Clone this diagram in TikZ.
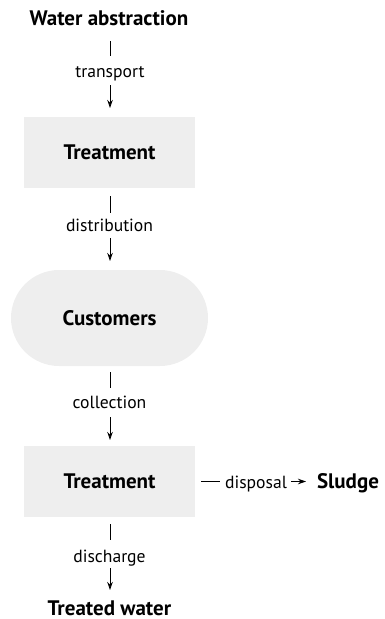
\documentclass[tikz,border=0pt]{standalone}
\usepackage{fontspec}
\setmainfont{PT Sans}
\usetikzlibrary{arrows.meta}
\definecolor{boxgray}{HTML}{EEEEEE}
\begin{document}
\begin{tikzpicture}[x=1pt,y=-1pt,
  boldtext/.style={font=\fontsize{21}{23}\selectfont\bfseries},
  title/.style={boldtext, inner sep=0pt, anchor=base},
  boxnode/.style={boldtext, fill=boxgray, minimum width=171pt, minimum height=71pt, inner sep=0pt},
  stadium/.style={boldtext, fill=boxgray, rounded corners=48pt, minimum width=197pt, minimum height=96pt, inner sep=0pt},
  lbl/.style={font=\fontsize{17.6}{19}\selectfont, inner sep=0pt, anchor=base},
  conn/.style={line width=0.9pt},
  arr/.style={line width=0.9pt, -{Stealth[length=8pt,width=5.5pt]}}
]
\useasboundingbox (0,0) rectangle (385,619);
\node[title] (wa) at (109,25) {Water abstraction};
\node[lbl] (l1) at (110,77) {transport};
\node[boxnode] (t1) at (109.5,152.5) {Treatment};
\node[lbl] (l2) at (109.5,231) {distribution};
\node[stadium] (cust) at (109.5,318) {Customers};
\node[lbl] (l3) at (109.5,408) {collection};
\node[boxnode] (t2) at (109.5,481.5) {Treatment};
\node[lbl] (l4) at (109.5,562) {discharge};
\node[title] (tw) at (109.5,615.5) {Treated water};
\node[lbl] (l5) at (256,488) {disposal};
\node[title] (sl) at (348,488) {Sludge};
% vertical connectors
\coordinate (a1) at (110,41); \coordinate (b1) at (110,56);
\coordinate (c1) at (110,85); \coordinate (d1) at (110,108);
\draw[conn] (a1) -- (b1);
\draw[arr] (c1) -- (d1);
\coordinate (a2) at (110,196); \coordinate (b2) at (110,213);
\coordinate (c2) at (110,238); \coordinate (d2) at (110,261);
\draw[conn] (a2) -- (b2);
\draw[arr] (c2) -- (d2);
\coordinate (a3) at (110,372); \coordinate (b3) at (110,388);
\coordinate (c3) at (110,417); \coordinate (d3) at (110,440);
\draw[conn] (a3) -- (b3);
\draw[arr] (c3) -- (d3);
\coordinate (a4) at (110,524); \coordinate (b4) at (110,540);
\coordinate (c4) at (110,568); \coordinate (d4) at (110,590);
\draw[conn] (a4) -- (b4);
\draw[arr] (c4) -- (d4);
% disposal
\coordinate (e1) at (201,481.5); \coordinate (e2) at (220,481.5);
\coordinate (f1) at (291,481.5); \coordinate (f2) at (306,481.5);
\draw[conn] (e1) -- (e2);
\draw[arr] (f1) -- (f2);
\end{tikzpicture}
\end{document}
